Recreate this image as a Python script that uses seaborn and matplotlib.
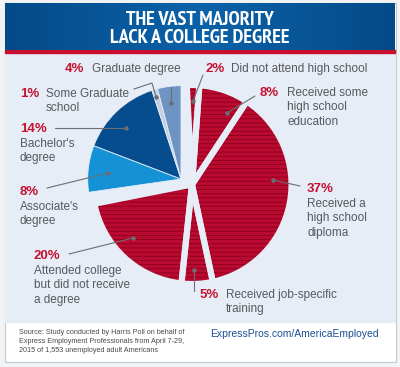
import glob
import numpy as np
import matplotlib
matplotlib.use("Agg")
import matplotlib.pyplot as plt
from matplotlib.patches import Rectangle
from matplotlib.colors import LinearSegmentedColormap
from matplotlib.font_manager import FontProperties
import seaborn as sns

# --- data ---
categories = ["Did not attend high school", "Received some high school education",
              "Received a high school diploma", "Received job-specific training",
              "Attended college but did not receive a degree", "Associate's degree",
              "Bachelor's degree", "Some Graduate school", "Graduate degree"]
shares = [2, 8, 37, 5, 20, 8, 14, 1, 4]
no_degree = [True, True, True, True, True, False, False, False, False]
pct_labels = ["2%", "8%", "37%", "5%", "20%", "8%", "14%", "1%", "4%"]
text_labels = ["Did not attend high school", "Received some\nhigh school\neducation",
               "Received a\nhigh school\ndiploma", "Received job-specific\ntraining",
               "Attended college\nbut did not receive\na degree", "Associate's\ndegree",
               "Bachelor's\ndegree", "Some Graduate\nschool", "Graduate degree"]

sns.set_style("white")
plt.rcParams['font.family'] = ['Liberation Sans', 'DejaVu Sans']
plt.rcParams['hatch.linewidth'] = 0.6

RED = "#bb0a30"
RED_DARK = "#880020"
BLUE_COLORS = sns.color_palette(["#1591d6", "#054d8e", "#c3d0e2", "#6e94c3"])
PANEL = "#e6edf7"
GRAY_TXT = "#58595b"
PCT_RED = "#c4122f"

# condensed bold face for the banner, if one is installed
title_font = FontProperties(family="Roboto", weight="bold", size=11)
cond = []
for pattern in ["*Narrow*Bold*.ttf", "*Condensed*Bold*.ttf", "*Cond*Bold*.ttf"]:
    cond += [f for f in glob.glob("/usr/share/fonts/**/" + pattern, recursive=True)
             if "Oblique" not in f and "Italic" not in f]
if cond:
    title_font = FontProperties(fname=cond[0], size=14.5)

W, H = 400, 367
fig = plt.figure(figsize=(W / 100, H / 100), dpi=100)
ax = fig.add_axes([0, 0, 1, 1])


def Y(y):
    # image row -> data y
    return H - y


# frame and backgrounds
ax.add_patch(Rectangle((0, 0), W, H, color="#f2f3f5", zorder=0))
ax.add_patch(Rectangle((4.5, Y(362)), 391, 359, facecolor="white", edgecolor="#c3c8cf", lw=0.8, zorder=0.5))
ax.add_patch(Rectangle((5, Y(322)), 390, 270, color=PANEL, zorder=1))
ax.add_patch(Rectangle((5, Y(53)), 390, 3, color="#c8102e", zorder=1))
grad = np.abs(np.linspace(-1, 1, 200))[None, :]
cmap = LinearSegmentedColormap.from_list("banner", ["#0c62a8", "#034a88"])
ax.imshow(grad, extent=(5, 395, Y(50), Y(3)), cmap=cmap, aspect="auto", zorder=1.5)

ax.text(200, Y(20), "THE VAST MAJORITY", color="white", fontproperties=title_font,
        ha="center", va="center", zorder=3)
ax.text(200, Y(38), "LACK A COLLEGE DEGREE", color="white", fontproperties=title_font,
        ha="center", va="center", zorder=3)

# pie: red group and a pulled-out blue group
cx, cy = 192, Y(184.5)
bx, by = 181, Y(179)
fills = []
bi = 0
for nd in no_degree:
    if nd:
        fills.append(RED)
    else:
        fills.append(BLUE_COLORS[bi])
        bi += 1

wedges, _ = ax.pie(shares, colors=fills, startangle=93, counterclock=False,
                   radius=99.5, center=(cx, cy), wedgeprops=dict(linewidth=0))
for w, nd in zip(wedges, no_degree):
    w.set_zorder(2)
    if nd:
        w.set_hatch("----")
        w.set_edgecolor(RED_DARK)
        w.set_linewidth(0)
    else:
        w.set_center((bx, by))
        w.set_radius(93.3)
        w.set_theta1(w.theta1 - 3)
        w.set_theta2(w.theta2 - 3)
        w.set_edgecolor(PANEL)
        w.set_linewidth(0.6)
        w.set_zorder(2.5)

# gaps between the red slices
gaps, _ = ax.pie(shares, colors=fills, startangle=93, counterclock=False,
                 radius=99.5, center=(cx, cy),
                 wedgeprops=dict(fill=False, edgecolor=PANEL, linewidth=4.4))
for g, nd in zip(gaps, no_degree):
    g.set_zorder(2.2)
    g.set_visible(nd)

# labels: (pct x, y), text x, leader points
label_pos = [
    (205, 69, 231),
    (260, 93, 287),
    (307, 189, 307),
    (200, 295, 226),
    (34, 256, 34),
    (20, 192, 20),
    (20, 129, 20),
    (20, 94, 46),
    (65, 69, 92),
]
leaders = [
    [(193, 101), (203, 75)],
    [(227, 113), (255, 96)],
    [(273, 180), (300, 186)],
    [(194, 270), (194, 291)],
    [(133, 238), (69, 254)],
    [(108, 173), (47, 188)],
    [(126, 128), (55, 128)],
    [(156, 97), (152, 83), (134, 89)],
    [(171, 103), (171, 87)],
]

for i in range(len(shares)):
    px, py, tx = label_pos[i]
    ax.text(px, Y(py), pct_labels[i], color=PCT_RED, fontsize=9.5, fontweight="bold",
            ha="left", va="center", zorder=4)
    lines = text_labels[i].split("\n")
    if tx == px:
        start = py + 15
    else:
        start = py
    for k, line in enumerate(lines):
        ax.text(tx, Y(start + 14.3 * k), line, color=GRAY_TXT, fontsize=8.5,
                ha="left", va="center", zorder=4)
    pts = np.array(leaders[i], dtype=float)
    ax.plot(pts[:, 0], H - pts[:, 1], color="#6b6e72", lw=0.8, zorder=3)
    ax.plot(pts[0, 0], H - pts[0, 1], "o", color="#6b6e72", ms=2.2, zorder=3)

# footer
source = ["Source: Study conducted by Harris Poll on behalf of",
          "Express Employment Professionals from April 7-29,",
          "2015 of 1,553 unemployed adult Americans"]
for k, line in enumerate(source):
    ax.text(19, Y(333 + 8.6 * k), line, color="#4a4a4a", fontsize=5.2,
            ha="left", va="center", zorder=4)
ax.text(210, Y(334), "ExpressPros.com/AmericaEmployed", color="#1b4f92", fontsize=7.5,
        ha="left", va="center", zorder=4)

ax.set_xlim(0, W)
ax.set_ylim(0, H)
ax.set_aspect("auto")
ax.axis("off")
fig.savefig("out.png", dpi=100)
